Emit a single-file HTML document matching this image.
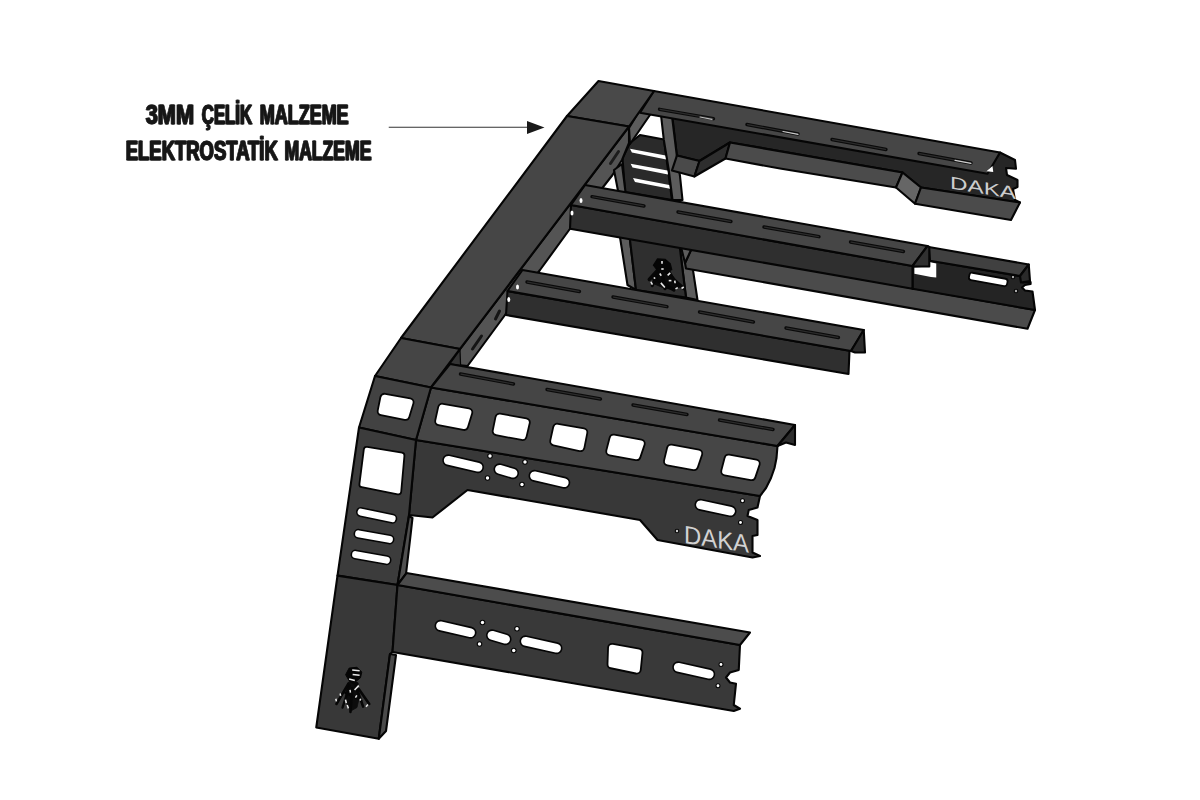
<!DOCTYPE html>
<html lang="tr"><head><meta charset="utf-8"><title>3MM ÇELİK MALZEME</title>
<style>
html,body{margin:0;padding:0;background:#fff;}
body{width:1200px;height:800px;overflow:hidden;position:relative;font-family:"Liberation Sans",sans-serif;}
svg{position:absolute;left:0;top:0;display:block}
.lbl{font-family:"Liberation Sans",sans-serif;font-weight:bold;font-size:28.2px;fill:#151515;stroke:#151515;stroke-width:0.8px;stroke-linejoin:round;filter:url(#hb)}
</style></head><body>
<svg width="1200" height="800" viewBox="0 0 1200 800">
<defs><filter id="hb" x="-5%" y="-20%" width="110%" height="140%"><feOffset in="SourceGraphic" dx="1" dy="0" result="o"/><feMerge><feMergeNode in="SourceGraphic"/><feMergeNode in="o"/></feMerge></filter></defs>
<rect width="1200" height="800" fill="#fff"/>
<text class="lbl" x="145.3" y="124" textLength="48.2" lengthAdjust="spacingAndGlyphs">3MM</text>
<text class="lbl" x="201.3" y="124" textLength="50.3" lengthAdjust="spacingAndGlyphs">ÇELİK</text>
<text class="lbl" x="259.3" y="124" textLength="88.8" lengthAdjust="spacingAndGlyphs">MALZEME</text>
<text class="lbl" x="125.3" y="159.8" textLength="152" lengthAdjust="spacingAndGlyphs">ELEKTROSTATİK</text>
<text class="lbl" x="284" y="159.8" textLength="87" lengthAdjust="spacingAndGlyphs">MALZEME</text>
<line x1="388.75" y1="127.3" x2="530" y2="127.3" stroke="#333" stroke-width="1.1"/>
<polygon points="527,121 544.5,127.4 527,134" fill="#1a1a1a"/>
<polygon points="640,135 664,139.5 672,200 625,192 622.5,158 630,143" fill="#2a2a2a" stroke="#050505" stroke-width="2.1" stroke-linejoin="round" />
<polygon points="630,148.75 665.6,155.6 666.25,159.4 631.9,152.5" fill="#fff" stroke="none" stroke-width="2.1" stroke-linejoin="round" />
<polygon points="630.6,163.75 667.5,170.6 668,174.4 632.5,167.5" fill="#fff" stroke="none" stroke-width="2.1" stroke-linejoin="round" />
<polygon points="633,178 669.4,185 670,188.75 635,182" fill="#fff" stroke="none" stroke-width="2.1" stroke-linejoin="round" />
<polygon points="629,126.5 629,143 622,160 612.5,175 603.5,186.5 570,228.75 540,270 505,315 467.5,366 449,364 460,349" fill="#545454" stroke="#050505" stroke-width="2.1" stroke-linejoin="round" />
<line x1="499.5" y1="311" x2="495.5" y2="319" stroke="#151515" stroke-width="3" stroke-linecap="round"/>
<line x1="481.5" y1="336" x2="472.5" y2="349" stroke="#151515" stroke-width="3" stroke-linecap="round"/>
<line x1="618.5" y1="151.5" x2="610.5" y2="163.5" stroke="#1c1c1c" stroke-width="3" stroke-linecap="round"/>
<polygon points="640,110 652,112 630,144 629,128" fill="#5c5c5c" stroke="#050505" stroke-width="2.1" stroke-linejoin="round" />
<polygon points="614,170 622,164 626,196 619,196" fill="#5c5c5c" stroke="#050505" stroke-width="2.1" stroke-linejoin="round" />
<polygon points="619.5,234 629.5,236 636,290 627.5,285" fill="#5c5c5c" stroke="#050505" stroke-width="2.1" stroke-linejoin="round" />
<polygon points="679.5,245 689.5,247 697.5,300 686,297.5" fill="#5c5c5c" stroke="#050505" stroke-width="2.1" stroke-linejoin="round" />
<polygon points="629.5,236 679.5,245 686,297.5 636,290" fill="#2f2f2f" stroke="#050505" stroke-width="2.1" stroke-linejoin="round" />
<polygon points="672,114 987.5,172 1000,152.5 1015,160 1016,168.75 1006,168 1007,175 1017.5,180 1017.5,187 1013,189 1015,200 1020,202.5 921,187.5 902.5,172.5 730,142.5 699.5,161 676.9,155.6" fill="#262626" stroke="#050505" stroke-width="2.1" stroke-linejoin="round" />
<polygon points="661,115 672,116 677,157 680,176 682.5,200 672.5,200 668.75,170 663.75,139.4" fill="#5c5c5c" stroke="#050505" stroke-width="2.1" stroke-linejoin="round" />
<polygon points="676.9,155.6 699.5,161 694.4,176.5 671.9,170.6" fill="#4a4a4a" stroke="#050505" stroke-width="2.1" stroke-linejoin="round" />
<polygon points="699.5,161 730,142.5 725.5,158.5 694.4,176.5" fill="#2e2e2e" stroke="#050505" stroke-width="2.1" stroke-linejoin="round" />
<polygon points="730,142.5 902.5,172.5 896,187.5 780,168.5 725.5,158.5" fill="#4b4b4b" stroke="#050505" stroke-width="2.1" stroke-linejoin="round" />
<polygon points="896,187.5 902.5,172.5 921,187.5 915,203.75" fill="#666" stroke="#050505" stroke-width="2.1" stroke-linejoin="round" />
<polygon points="921,187.5 1020,202.5 1011,220 915,203.75" fill="#4b4b4b" stroke="#050505" stroke-width="2.1" stroke-linejoin="round" />
<text x="0" y="0" font-family="Liberation Sans, sans-serif" font-weight="normal" font-size="17.5" fill="#cdcdcd" transform="matrix(1 0.16 0 1 950 188.5)" textLength="66" lengthAdjust="spacingAndGlyphs">DAKA</text>
<polygon points="654,91 1000,152.5 987.5,173.75 640,112.7" fill="#464646" stroke="#050505" stroke-width="2.1" stroke-linejoin="round" />
<line x1="659.5" y1="109.3" x2="713.5" y2="118.7" stroke="#0a0a0a" stroke-width="3.4" stroke-linecap="round"/>
<line x1="660" y1="109.4" x2="713" y2="118.6" stroke="#2c2c2c" stroke-width="1.1" stroke-linecap="round"/>
<line x1="747" y1="124.5" x2="798" y2="134" stroke="#0a0a0a" stroke-width="3.4" stroke-linecap="round"/>
<line x1="747.5" y1="124.6" x2="797.5" y2="133.9" stroke="#2c2c2c" stroke-width="1.1" stroke-linecap="round"/>
<line x1="832" y1="139.5" x2="886" y2="149.5" stroke="#0a0a0a" stroke-width="3.4" stroke-linecap="round"/>
<line x1="832.5" y1="139.6" x2="885.5" y2="149.4" stroke="#2c2c2c" stroke-width="1.1" stroke-linecap="round"/>
<line x1="919" y1="153.5" x2="971" y2="163" stroke="#0a0a0a" stroke-width="3.4" stroke-linecap="round"/>
<line x1="919.5" y1="153.6" x2="970.5" y2="162.9" stroke="#2c2c2c" stroke-width="1.1" stroke-linecap="round"/>
<polygon points="986.5,171.25 992.5,166 993.25,172" fill="#fff" stroke="none" stroke-width="2.1" stroke-linejoin="round" />
<line x1="700" y1="117" x2="712" y2="119.3" stroke="#bbb" stroke-width="1.2" stroke-linecap="round"/>
<line x1="783" y1="131.5" x2="798" y2="134.3" stroke="#ccc" stroke-width="1.2" stroke-linecap="round"/>
<line x1="955" y1="160.3" x2="971" y2="163.3" stroke="#ccc" stroke-width="1.2" stroke-linecap="round"/>
<polygon points="691.5,249 1035,310 1027.5,328.75 686,268.5 685,263" fill="#4b4b4b" stroke="#050505" stroke-width="2.1" stroke-linejoin="round" />
<polygon points="681,247 691.5,249 685,263" fill="#5c5c5c" stroke="#050505" stroke-width="2.1" stroke-linejoin="round" />
<polygon points="912.5,266 932.5,261 1020,276 1023,282.5 1030.6,282 1030.6,284 1025,285 1022,287.5 1025,290.5 1032.5,291.5 1035,310 912.5,288.75" fill="#242424" stroke="#050505" stroke-width="2.1" stroke-linejoin="round" />
<polygon points="914.4,267.5 929.4,266.5 929.4,262 936.25,263.5 936.25,277.5 931,277 914.4,273.75" fill="#fff" stroke="none" stroke-width="2.1" stroke-linejoin="round" />
<polygon points="972,275.3 1005,281.3 1004.5,283.6 971.5,277.6" fill="#050505" stroke="#050505" stroke-width="7" stroke-linejoin="round"/>
<polygon points="972,275.3 1005,281.3 1004.5,283.6 971.5,277.6" fill="#fff" stroke="#fff" stroke-width="3.4" stroke-linejoin="round"/>
<circle cx="1013" cy="277" r="2.3" fill="#050505"/>
<circle cx="1013" cy="277" r="1.2" fill="#aaa"/>
<circle cx="1016" cy="291" r="2.3" fill="#050505"/>
<circle cx="1016" cy="291" r="1.2" fill="#aaa"/>
<polygon points="928.8,247 1028.75,264.5 1020,276 930,260.7" fill="#404040" stroke="#050505" stroke-width="2.1" stroke-linejoin="round" />
<polygon points="1028.75,264.5 1030,281 1021,282.5 1020,276" fill="#2a2a2a" stroke="#050505" stroke-width="2.1" stroke-linejoin="round" />
<polygon points="571,205 912.5,266 912.5,288.75 570,228.75" fill="#2f2f2f" stroke="#050505" stroke-width="2.1" stroke-linejoin="round" />
<polygon points="585,185 927.5,246 912.5,266 571,205" fill="#464646" stroke="#050505" stroke-width="2.1" stroke-linejoin="round" />
<polygon points="927.5,246 929.3,247 929.3,266.5 914.5,266.5 912.5,266" fill="#303030" stroke="#050505" stroke-width="2.1" stroke-linejoin="round" />
<line x1="592" y1="196.7" x2="644" y2="206" stroke="#0a0a0a" stroke-width="3.4" stroke-linecap="round"/>
<line x1="592.5" y1="196.8" x2="643.5" y2="205.9" stroke="#2c2c2c" stroke-width="1.1" stroke-linecap="round"/>
<line x1="678" y1="212" x2="731" y2="221.5" stroke="#0a0a0a" stroke-width="3.4" stroke-linecap="round"/>
<line x1="678.5" y1="212.1" x2="730.5" y2="221.4" stroke="#2c2c2c" stroke-width="1.1" stroke-linecap="round"/>
<line x1="764" y1="227" x2="819" y2="236.7" stroke="#0a0a0a" stroke-width="3.4" stroke-linecap="round"/>
<line x1="764.5" y1="227.1" x2="818.5" y2="236.6" stroke="#2c2c2c" stroke-width="1.1" stroke-linecap="round"/>
<line x1="850.5" y1="242" x2="903.5" y2="251.5" stroke="#0a0a0a" stroke-width="3.4" stroke-linecap="round"/>
<line x1="851" y1="242.1" x2="903" y2="251.4" stroke="#2c2c2c" stroke-width="1.1" stroke-linecap="round"/>
<polygon points="507.5,291 849.5,350.7 848.5,374 506,315" fill="#2f2f2f" stroke="#050505" stroke-width="2.1" stroke-linejoin="round" />
<polygon points="522.5,270 863.75,330 851,351 507.5,291" fill="#464646" stroke="#050505" stroke-width="2.1" stroke-linejoin="round" />
<polygon points="863.75,330 865,352.5 855,352.5 851,351" fill="#2d2d2d" stroke="#050505" stroke-width="2.1" stroke-linejoin="round" />
<line x1="527" y1="282" x2="579.5" y2="291.5" stroke="#0a0a0a" stroke-width="3.4" stroke-linecap="round"/>
<line x1="527.5" y1="282.1" x2="579" y2="291.4" stroke="#2c2c2c" stroke-width="1.1" stroke-linecap="round"/>
<line x1="613" y1="297" x2="667" y2="306.7" stroke="#0a0a0a" stroke-width="3.4" stroke-linecap="round"/>
<line x1="613.5" y1="297.1" x2="666.5" y2="306.6" stroke="#2c2c2c" stroke-width="1.1" stroke-linecap="round"/>
<line x1="699.5" y1="312" x2="753.5" y2="322" stroke="#0a0a0a" stroke-width="3.4" stroke-linecap="round"/>
<line x1="700" y1="312.1" x2="753" y2="321.9" stroke="#2c2c2c" stroke-width="1.1" stroke-linecap="round"/>
<line x1="786" y1="328" x2="838.5" y2="337.5" stroke="#0a0a0a" stroke-width="3.4" stroke-linecap="round"/>
<line x1="786.5" y1="328.1" x2="838" y2="337.4" stroke="#2c2c2c" stroke-width="1.1" stroke-linecap="round"/>
<ellipse cx="581" cy="200.5" rx="1.5" ry="2.5" fill="#fff"/>
<ellipse cx="572" cy="213" rx="1.5" ry="2.5" fill="#fff"/>
<ellipse cx="517.5" cy="287" rx="1.5" ry="2.5" fill="#fff"/>
<ellipse cx="508.75" cy="299.5" rx="1.5" ry="2.5" fill="#fff"/>
<polygon points="598.5,81 654,91 629,126.5 567,116" fill="#494949" stroke="#050505" stroke-width="2.1" stroke-linejoin="round" />
<polygon points="567,116 629,126.5 460,349 401,338" fill="#464646" stroke="#050505" stroke-width="2.1" stroke-linejoin="round" />
<polygon points="401,338 460,349 431,387.5 375,376" fill="#454545" stroke="#050505" stroke-width="2.1" stroke-linejoin="round" />
<polygon points="450,363.75 460,350 460.6,365.5" fill="#353535" stroke="#050505" stroke-width="1.2" stroke-linejoin="round" />
<polygon points="416,440 760,496 757.5,507.5 748.75,510 747.5,516 757.5,520 757.5,535 752.5,536 752.5,552.5 760,556 752.5,557.5 657.5,540 640,520 560,506 467.5,490 432.5,517.5 409,515" fill="#383838" stroke="#050505" stroke-width="2.1" stroke-linejoin="round" />
<polygon points="431,387.5 777.5,446 776.5,458 774.5,468 771,478 766,488 760,496 416,440" fill="#464646" stroke="#050505" stroke-width="2.1" stroke-linejoin="round" />
<polygon points="450,364 795,425 777.5,446 431,387.5" fill="#454545" stroke="#050505" stroke-width="2.1" stroke-linejoin="round" />
<polygon points="795,425 795,445 786,442.5 777.5,446" fill="#2d2d2d" stroke="#050505" stroke-width="2.1" stroke-linejoin="round" />
<line x1="460.5" y1="374" x2="513.5" y2="384" stroke="#0a0a0a" stroke-width="3.4" stroke-linecap="round"/>
<line x1="461" y1="374.1" x2="513" y2="383.9" stroke="#2c2c2c" stroke-width="1.1" stroke-linecap="round"/>
<line x1="547" y1="389.5" x2="600.5" y2="399" stroke="#0a0a0a" stroke-width="3.4" stroke-linecap="round"/>
<line x1="547.5" y1="389.6" x2="600" y2="398.9" stroke="#2c2c2c" stroke-width="1.1" stroke-linecap="round"/>
<line x1="633" y1="405" x2="687" y2="414.5" stroke="#0a0a0a" stroke-width="3.4" stroke-linecap="round"/>
<line x1="633.5" y1="405.1" x2="686.5" y2="414.4" stroke="#2c2c2c" stroke-width="1.1" stroke-linecap="round"/>
<line x1="719.5" y1="420" x2="773" y2="429.5" stroke="#0a0a0a" stroke-width="3.4" stroke-linecap="round"/>
<line x1="720" y1="420.1" x2="772.5" y2="429.4" stroke="#2c2c2c" stroke-width="1.1" stroke-linecap="round"/>
<polygon points="442.241,407.808 468.215,412.307 464.085,425.851 439.281,421.179" fill="#050505" stroke="#050505" stroke-width="10" stroke-linejoin="round"/>
<polygon points="442.241,407.808 468.215,412.307 464.085,425.851 439.281,421.179" fill="#fff" stroke="#fff" stroke-width="6.4" stroke-linejoin="round"/>
<polygon points="499.531,417.758 525.718,422.319 522.506,435.946 496.785,431.192" fill="#050505" stroke="#050505" stroke-width="10" stroke-linejoin="round"/>
<polygon points="499.531,417.758 525.718,422.319 522.506,435.946 496.785,431.192" fill="#fff" stroke="#fff" stroke-width="6.4" stroke-linejoin="round"/>
<polygon points="557.234,427.816 583.241,432.391 580.351,447.082 554.307,441.265" fill="#050505" stroke="#050505" stroke-width="10" stroke-linejoin="round"/>
<polygon points="557.234,427.816 583.241,432.391 580.351,447.082 554.307,441.265" fill="#fff" stroke="#fff" stroke-width="6.4" stroke-linejoin="round"/>
<polygon points="613.584,438.688 640.654,443.587 636.445,456.024 610.333,451.361" fill="#050505" stroke="#050505" stroke-width="10" stroke-linejoin="round"/>
<polygon points="613.584,438.688 640.654,443.587 636.445,456.024 610.333,451.361" fill="#fff" stroke="#fff" stroke-width="6.4" stroke-linejoin="round"/>
<polygon points="671.089,448.681 698.155,453.59 693.951,466.016 668.08,461.35" fill="#050505" stroke="#050505" stroke-width="10" stroke-linejoin="round"/>
<polygon points="671.089,448.681 698.155,453.59 693.951,466.016 668.08,461.35" fill="#fff" stroke="#fff" stroke-width="6.4" stroke-linejoin="round"/>
<polygon points="728.584,458.688 755.654,463.587 751.445,476.024 725.333,471.361" fill="#050505" stroke="#050505" stroke-width="10" stroke-linejoin="round"/>
<polygon points="728.584,458.688 755.654,463.587 751.445,476.024 725.333,471.361" fill="#fff" stroke="#fff" stroke-width="6.4" stroke-linejoin="round"/>
<line x1="448.25" y1="460.3" x2="478" y2="467.2" stroke="#050505" stroke-width="12" stroke-linecap="round"/>
<line x1="448.25" y1="460.3" x2="478" y2="467.2" stroke="#fff" stroke-width="8.8" stroke-linecap="round"/>
<line x1="499.5" y1="469.3" x2="513" y2="473.2" stroke="#050505" stroke-width="12" stroke-linecap="round"/>
<line x1="499.5" y1="469.3" x2="513" y2="473.2" stroke="#fff" stroke-width="8.8" stroke-linecap="round"/>
<line x1="534.5" y1="475.8" x2="564.25" y2="482.7" stroke="#050505" stroke-width="12" stroke-linecap="round"/>
<line x1="534.5" y1="475.8" x2="564.25" y2="482.7" stroke="#fff" stroke-width="8.8" stroke-linecap="round"/>
<circle cx="490" cy="456" r="2.8" fill="#050505"/>
<circle cx="490" cy="456" r="1.7" fill="#fff"/>
<circle cx="525" cy="462" r="2.8" fill="#050505"/>
<circle cx="525" cy="462" r="1.7" fill="#fff"/>
<circle cx="487.5" cy="478" r="2.8" fill="#050505"/>
<circle cx="487.5" cy="478" r="1.7" fill="#fff"/>
<circle cx="522" cy="484.5" r="2.8" fill="#050505"/>
<circle cx="522" cy="484.5" r="1.7" fill="#fff"/>
<line x1="700.5" y1="504.8" x2="730.5" y2="511.2" stroke="#050505" stroke-width="12" stroke-linecap="round"/>
<line x1="700.5" y1="504.8" x2="730.5" y2="511.2" stroke="#fff" stroke-width="8.8" stroke-linecap="round"/>
<circle cx="742.5" cy="500.75" r="2.5" fill="#050505"/>
<circle cx="742.5" cy="500.75" r="1.4" fill="#fff"/>
<circle cx="740.5" cy="522.5" r="2.5" fill="#050505"/>
<circle cx="740.5" cy="522.5" r="1.4" fill="#fff"/>
<circle cx="677" cy="531" r="2.3" fill="#050505"/>
<circle cx="677" cy="531" r="1.2" fill="#ccc"/>
<text x="0" y="0" font-family="Liberation Sans, sans-serif" font-weight="normal" font-size="25" fill="#d2d2d2" transform="matrix(1 0.15 0 1 684 543)" textLength="65" lengthAdjust="spacingAndGlyphs">DAKA</text>
<polygon points="375,376 431,387.5 416,440 359,427.5" fill="#424242" stroke="#050505" stroke-width="2.1" stroke-linejoin="round" />
<polygon points="384.449,397.859 409.476,402.343 405.394,415.782 381.766,411.133" fill="#050505" stroke="#050505" stroke-width="10" stroke-linejoin="round"/>
<polygon points="384.449,397.859 409.476,402.343 405.394,415.782 381.766,411.133" fill="#fff" stroke="#fff" stroke-width="6.4" stroke-linejoin="round"/>
<polygon points="359,427.5 416,440 409,515 397.5,585 337.5,575.6" fill="#3c3c3c" stroke="#050505" stroke-width="2.1" stroke-linejoin="round" />
<polygon points="366.688,449.734 401.526,455.452 398.309,491.519 362.283,484.379" fill="#050505" stroke="#050505" stroke-width="7.6" stroke-linejoin="round"/>
<polygon points="366.688,449.734 401.526,455.452 398.309,491.519 362.283,484.379" fill="#fff" stroke="#fff" stroke-width="4" stroke-linejoin="round"/>
<line x1="361" y1="512.05" x2="392.25" y2="518.7" stroke="#050505" stroke-width="10" stroke-linecap="round"/>
<line x1="361" y1="512.05" x2="392.25" y2="518.7" stroke="#fff" stroke-width="6.8" stroke-linecap="round"/>
<line x1="358.5" y1="533.8" x2="389.5" y2="539.45" stroke="#050505" stroke-width="10" stroke-linecap="round"/>
<line x1="358.5" y1="533.8" x2="389.5" y2="539.45" stroke="#fff" stroke-width="6.8" stroke-linecap="round"/>
<line x1="355.5" y1="554.55" x2="386.5" y2="560.2" stroke="#050505" stroke-width="10" stroke-linecap="round"/>
<line x1="355.5" y1="554.55" x2="386.5" y2="560.2" stroke="#fff" stroke-width="6.8" stroke-linecap="round"/>
<polygon points="409,516 412.5,518 410,540 406,574 397.5,585" fill="#505050" stroke="#050505" stroke-width="2.1" stroke-linejoin="round" />
<polygon points="337.5,575.6 397.5,585 392.5,652 390,654 378.75,738.75 316.25,727.5" fill="#383838" stroke="#050505" stroke-width="2.1" stroke-linejoin="round" />
<polygon points="390,654 396,655 386,731 378.75,738.75" fill="#4a4a4a" stroke="#050505" stroke-width="2.1" stroke-linejoin="round" />
<polygon points="397.5,585 740,645 738.75,670 730,672.5 726,677.5 730,682.5 736,683.75 733.75,705 740,708.75 733.75,711 392.5,652" fill="#393939" stroke="#050505" stroke-width="2.1" stroke-linejoin="round" />
<polygon points="406.5,573 750,632.5 740,645 397.5,585" fill="#4c4c4c" stroke="#050505" stroke-width="2.1" stroke-linejoin="round" />
<line x1="440.5" y1="625.8" x2="470.5" y2="632.7" stroke="#050505" stroke-width="12" stroke-linecap="round"/>
<line x1="440.5" y1="625.8" x2="470.5" y2="632.7" stroke="#fff" stroke-width="8.8" stroke-linecap="round"/>
<line x1="492" y1="635.3" x2="505.5" y2="639.2" stroke="#050505" stroke-width="12" stroke-linecap="round"/>
<line x1="492" y1="635.3" x2="505.5" y2="639.2" stroke="#fff" stroke-width="8.8" stroke-linecap="round"/>
<line x1="525.5" y1="641.3" x2="556.5" y2="648.2" stroke="#050505" stroke-width="12" stroke-linecap="round"/>
<line x1="525.5" y1="641.3" x2="556.5" y2="648.2" stroke="#fff" stroke-width="8.8" stroke-linecap="round"/>
<circle cx="482.5" cy="622.5" r="2.8" fill="#050505"/>
<circle cx="482.5" cy="622.5" r="1.7" fill="#fff"/>
<circle cx="517" cy="628.75" r="2.8" fill="#050505"/>
<circle cx="517" cy="628.75" r="1.7" fill="#fff"/>
<circle cx="479.5" cy="644" r="2.8" fill="#050505"/>
<circle cx="479.5" cy="644" r="1.7" fill="#fff"/>
<circle cx="513.75" cy="650.5" r="2.8" fill="#050505"/>
<circle cx="513.75" cy="650.5" r="1.7" fill="#fff"/>
<polygon points="612.155,647.911 638.381,652.763 636.68,669.492 611.617,664.233" fill="#050505" stroke="#050505" stroke-width="10" stroke-linejoin="round"/>
<polygon points="612.155,647.911 638.381,652.763 636.68,669.492 611.617,664.233" fill="#fff" stroke="#fff" stroke-width="6.4" stroke-linejoin="round"/>
<line x1="678.25" y1="667.3" x2="709.25" y2="674.2" stroke="#050505" stroke-width="12" stroke-linecap="round"/>
<line x1="678.25" y1="667.3" x2="709.25" y2="674.2" stroke="#fff" stroke-width="8.8" stroke-linecap="round"/>
<circle cx="721" cy="664.5" r="2.5" fill="#050505"/>
<circle cx="721" cy="664.5" r="1.4" fill="#fff"/>
<circle cx="718" cy="685.75" r="2.5" fill="#050505"/>
<circle cx="718" cy="685.75" r="1.4" fill="#fff"/>
<g>
<polygon points="349.122,668.123 356.996,667.248 361.808,672.06 360.495,677.747 356.121,681.247 349.122,680.809 345.622,674.685" fill="#050505" stroke="#050505" stroke-width="1" stroke-linejoin="round" />
<polygon points="348.247,682.122 356.996,683.871 359.62,696.12 356.996,707.493 350.871,710.993 347.372,703.994 345.622,691.745" fill="#0c0c0c" stroke="#0c0c0c" stroke-width="0.8" stroke-linejoin="round" />
<line x1="348.247" y1="683.871" x2="336.436" y2="703.994" stroke="#060606" stroke-width="2.6" stroke-linecap="round"/>
<line x1="349.559" y1="685.621" x2="342.56" y2="707.493" stroke="#060606" stroke-width="2.4" stroke-linecap="round"/>
<line x1="352.184" y1="688.246" x2="350.434" y2="711.868" stroke="#060606" stroke-width="2.6" stroke-linecap="round"/>
<line x1="355.683" y1="685.621" x2="363.12" y2="706.619" stroke="#060606" stroke-width="2.6" stroke-linecap="round"/>
<line x1="358.745" y1="689.121" x2="369.244" y2="703.994" stroke="#060606" stroke-width="2.6" stroke-linecap="round"/>
<line x1="344.747" y1="692.62" x2="361.37" y2="700.494" stroke="#060606" stroke-width="2.2" stroke-linecap="round"/>
<line x1="350.871" y1="681.247" x2="356.996" y2="683.871" stroke="#060606" stroke-width="3.4" stroke-linecap="round"/>
<line x1="352.184" y1="670.048" x2="359.62" y2="670.748" stroke="#e8e8e8" stroke-width="1.5" stroke-linecap="butt"/>
<line x1="352.621" y1="674.423" x2="359.62" y2="675.297" stroke="#e8e8e8" stroke-width="1.5" stroke-linecap="butt"/>
<line x1="349.122" y1="679.059" x2="354.808" y2="680.547" stroke="#e8e8e8" stroke-width="1.5" stroke-linecap="butt"/>
<line x1="358.745" y1="685.621" x2="354.546" y2="689.996" stroke="#e8e8e8" stroke-width="1.5" stroke-linecap="butt"/>
<line x1="335.823" y1="698.745" x2="336.436" y2="701.369" stroke="#e8e8e8" stroke-width="1.5" stroke-linecap="butt"/>
<line x1="340.11" y1="693.495" x2="340.635" y2="695.945" stroke="#e8e8e8" stroke-width="1.5" stroke-linecap="butt"/>
<line x1="345.447" y1="699.619" x2="346.322" y2="702.944" stroke="#e8e8e8" stroke-width="1.5" stroke-linecap="butt"/>
<line x1="347.197" y1="705.044" x2="348.422" y2="708.368" stroke="#e8e8e8" stroke-width="1.5" stroke-linecap="butt"/>
<line x1="356.821" y1="695.42" x2="355.421" y2="697.695" stroke="#e8e8e8" stroke-width="1.5" stroke-linecap="butt"/>
<line x1="360.758" y1="698.745" x2="359.795" y2="700.669" stroke="#e8e8e8" stroke-width="1.5" stroke-linecap="butt"/>
<line x1="367.932" y1="704.431" x2="366.007" y2="706.794" stroke="#e8e8e8" stroke-width="1.5" stroke-linecap="butt"/>
<line x1="349.997" y1="689.996" x2="350.434" y2="692.62" stroke="#e8e8e8" stroke-width="1.5" stroke-linecap="butt"/>
</g>
<polygon points="657.501,258.875 665.001,259.25 670.251,263.75 671.751,269.751 666.501,271.251 657.501,270.501 653.375,265.251" fill="#050505" stroke="#050505" stroke-width="1.2" stroke-linejoin="round" />
<polygon points="657.501,270.501 669.501,270.501 675.501,280.251 680.001,287.001 671.001,289.251 663.501,287.751 654.5,284.001 652.25,278.001" fill="#0a0a0a" stroke="#0a0a0a" stroke-width="1" stroke-linejoin="round" />
<line x1="657.501" y1="270.501" x2="649.25" y2="279.501" stroke="#060606" stroke-width="3.4" stroke-linecap="round"/>
<line x1="659.001" y1="272.001" x2="652.25" y2="285.501" stroke="#060606" stroke-width="3.2" stroke-linecap="round"/>
<line x1="662.001" y1="273.501" x2="665.001" y2="288.501" stroke="#060606" stroke-width="3.4" stroke-linecap="round"/>
<line x1="666.501" y1="271.251" x2="677.001" y2="284.001" stroke="#060606" stroke-width="3.6" stroke-linecap="round"/>
<line x1="670.251" y1="276.501" x2="683.751" y2="288.501" stroke="#060606" stroke-width="3.4" stroke-linecap="round"/>
<line x1="654.5" y1="278.751" x2="674.001" y2="290.001" stroke="#060606" stroke-width="3.2" stroke-linecap="round"/>
<line x1="659.751" y1="269.751" x2="668.751" y2="270.501" stroke="#060606" stroke-width="4" stroke-linecap="round"/>
<line x1="662.001" y1="260.9" x2="662.001" y2="263.75" stroke="#e8e8e8" stroke-width="1.6" stroke-linecap="butt"/>
<line x1="661.251" y1="269.001" x2="663.651" y2="269.001" stroke="#e8e8e8" stroke-width="1.6" stroke-linecap="butt"/>
<line x1="667.626" y1="275.376" x2="670.251" y2="272.901" stroke="#e8e8e8" stroke-width="1.6" stroke-linecap="butt"/>
<line x1="668.751" y1="280.626" x2="671.376" y2="280.626" stroke="#e8e8e8" stroke-width="1.6" stroke-linecap="butt"/>
<line x1="674.751" y1="280.626" x2="675.126" y2="283.251" stroke="#e8e8e8" stroke-width="1.6" stroke-linecap="butt"/>
<line x1="654.275" y1="277.251" x2="654.65" y2="278.901" stroke="#e8e8e8" stroke-width="1.6" stroke-linecap="butt"/>
<line x1="650.9" y1="281.751" x2="652.4" y2="284.601" stroke="#e8e8e8" stroke-width="1.6" stroke-linecap="butt"/>
<line x1="660.876" y1="282.876" x2="664.851" y2="287.601" stroke="#e8e8e8" stroke-width="1.6" stroke-linecap="butt"/>
<line x1="675.501" y1="288.876" x2="677.751" y2="287.601" stroke="#e8e8e8" stroke-width="1.6" stroke-linecap="butt"/>
<line x1="681.501" y1="288.501" x2="683.751" y2="287.001" stroke="#e8e8e8" stroke-width="1.6" stroke-linecap="butt"/>
<line x1="659.751" y1="273.501" x2="661.251" y2="275.751" stroke="#e8e8e8" stroke-width="1.6" stroke-linecap="butt"/>
</svg>
</body></html>
